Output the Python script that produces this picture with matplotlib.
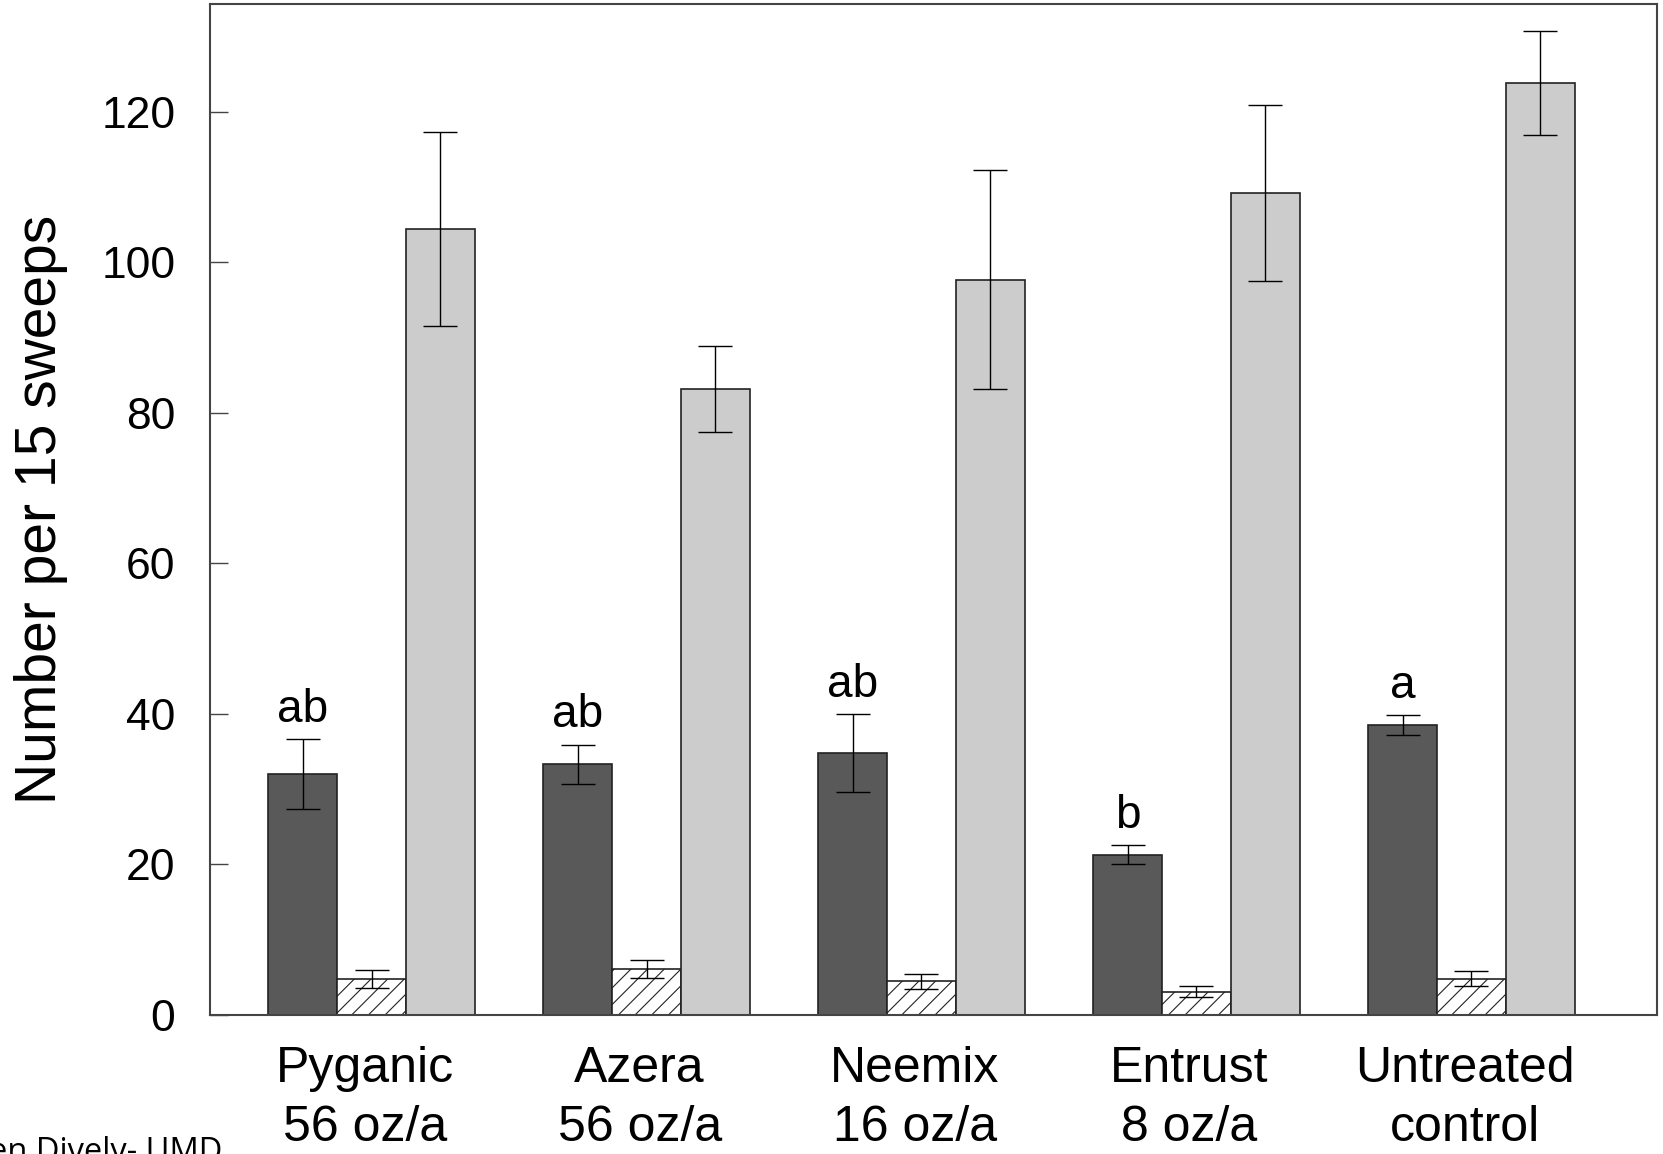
import numpy as np
import matplotlib
matplotlib.use("Agg")
import matplotlib.pyplot as plt

## DATA
treatments = ["Pyganic\n56 oz/a", "Azera\n56 oz/a", "Neemix\n16 oz/a", "Entrust\n8 oz/a", "Untreated\ncontrol"]
darkMeans = [32.0, 33.3, 34.8, 21.3, 38.5]
darkErr = [4.6, 2.6, 5.2, 1.3, 1.35]
hatchMeans = [4.8, 6.1, 4.5, 3.1, 4.8]
hatchErr = [1.2, 1.2, 1.0, 0.75, 1.0]
greyMeans = [104.4, 83.2, 97.7, 109.2, 123.8]
greyErr = [12.9, 5.7, 14.5, 11.7, 6.85]
letters = ["ab", "ab", "ab", "b", "a"]
yticks = [0, 20, 40, 60, 80, 100, 120]

plt.rcParams['font.family'] = ['Liberation Sans', 'DejaVu Sans']
plt.rcParams['hatch.linewidth'] = 0.8
plt.rcParams['hatch.color'] = '#333333'

W, H = 1663, 1154
fig = plt.figure(figsize=(W / 100, H / 100), dpi=100)
ax = fig.add_axes([210 / W, 1 - 1015 / H, (1657 - 210) / W, (1015 - 4) / H])

# R barplot style: each group of 3 bars with one bar gap before it
groups = np.arange(len(treatments))
xDark = 1.5 + 4 * groups
xHatch = 2.5 + 4 * groups
xGrey = 3.5 + 4 * groups

edge = '#222222'
errStyle = dict(fmt='none', ecolor='black', elinewidth=1.0, capsize=12, capthick=1.0)

ax.bar(xDark, darkMeans, width=1.0, color='#595959', edgecolor=edge, linewidth=1.2)
ax.bar(xHatch, hatchMeans, width=1.0, color='white', edgecolor=edge, linewidth=1.2, hatch='//')
ax.bar(xGrey, greyMeans, width=1.0, color='#cccccc', edgecolor=edge, linewidth=1.2)

ax.errorbar(xDark, darkMeans, yerr=darkErr, **errStyle)
ax.errorbar(xHatch, hatchMeans, yerr=hatchErr, **errStyle)
ax.errorbar(xGrey, greyMeans, yerr=greyErr, **errStyle)

for i in range(len(letters)):
    ax.text(xDark[i], darkMeans[i] + darkErr[i] + 2.3, letters[i],
            ha='center', va='baseline', fontsize=33)

ax.set_xlim(0.15, 21.2)
ax.set_ylim(0, 134.3)

ax.set_yticks(yticks)
ax.set_yticklabels([str(t) for t in yticks])
ax.tick_params(axis='y', direction='in', length=13, width=1.0, pad=25, labelsize=32, color='#444444')

# labels sit a little left of the group centre in the original
ax.set_xticks(xHatch - 0.1)
ax.set_xticklabels(treatments, fontsize=36, linespacing=1.38)
ax.tick_params(axis='x', length=0, pad=22)

for s in ax.spines.values():
    s.set_linewidth(1.5)
    s.set_color('#444444')

fig.text(41 / W, 1 - 509 / H, 'Number per 15 sweeps', rotation=90,
         ha='center', va='center', fontsize=41)

fig.text(222 / W, 1 - 1161 / H, 'Galen Dively- UMD', ha='right', va='baseline',
         fontsize=23.5, family=['Open Sans', 'DejaVu Sans'])

fig.savefig('out.png', dpi=100)
